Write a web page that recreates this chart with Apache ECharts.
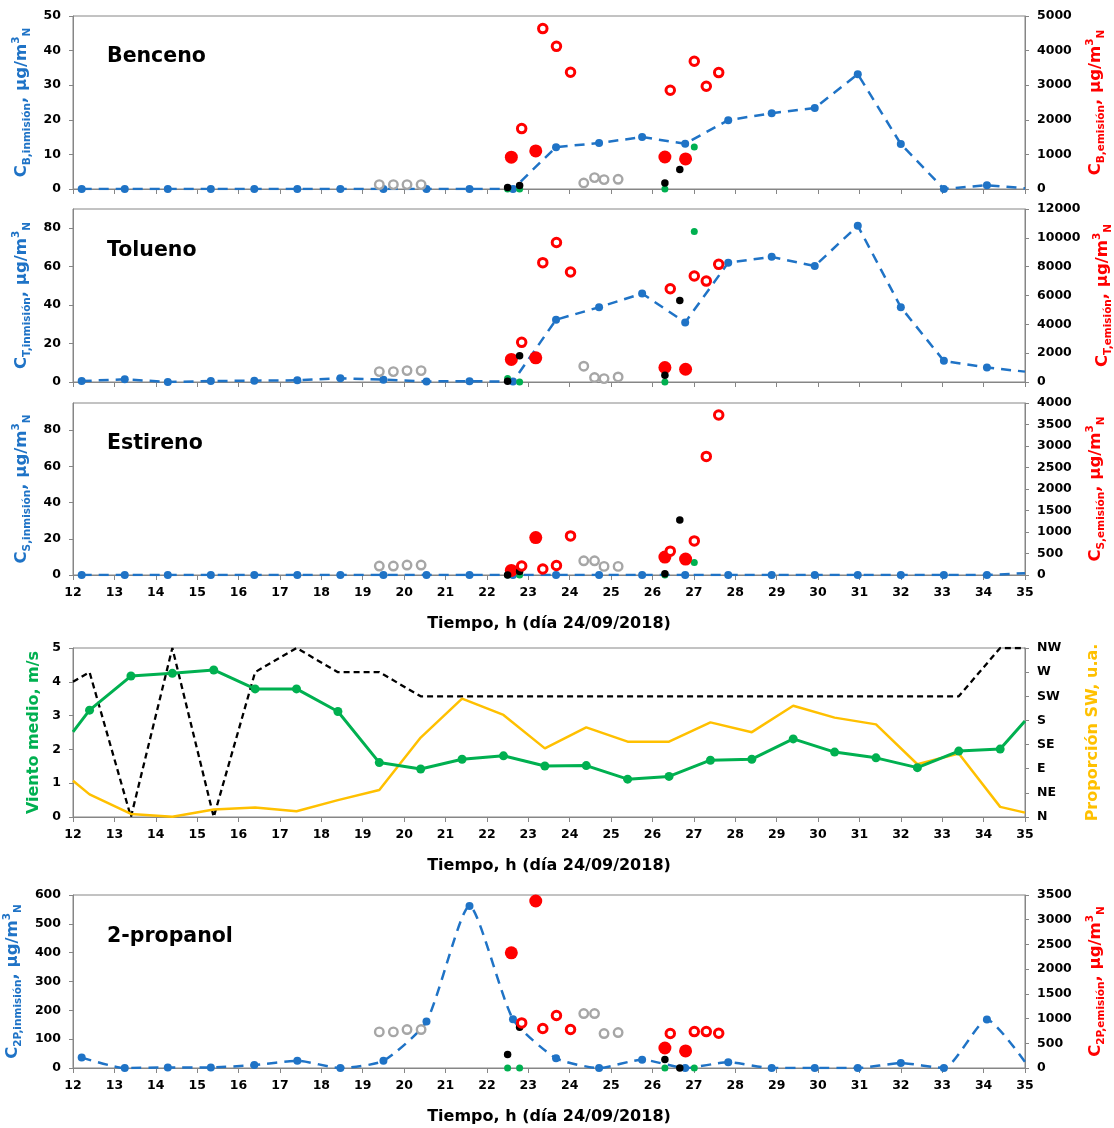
<!DOCTYPE html>
<html>
<head>
<meta charset="utf-8">
<script src="https://cdn.jsdelivr.net/npm/echarts@6/dist/echarts.min.js"></script>
<style>
  html, body { margin: 0; padding: 0; background: #fff; }
  #chart { width: 1114px; height: 1128px; }
</style>
</head>
<body>
<div id="chart"></div>
<script>
// ---- Ambient (inmisión) samples: hour of day 24/09/2018; last entry is the value at the 35 h frame edge
const hoursImm    = [12.21, 13.25, 14.29, 15.33, 16.38, 17.42, 18.46, 19.50, 20.54, 21.58, 22.63, 23.67, 24.71, 25.75, 26.79, 27.83, 28.88, 29.92, 30.96, 32.00, 33.04, 34.08, 35];
const benzeneImm  = [0, 0, 0, 0, 0, 0, 0, 0, 0, 0, 0, 12.1, 13.3, 15.0, 13.1, 19.9, 21.9, 23.4, 33.2, 13.0, 0, 1.1, 0.2];
const tolueneImm  = [0.5, 1.4, 0, 0.5, 0.7, 0.9, 1.9, 1.2, 0.3, 0.4, 0.2, 32.4, 38.9, 46.0, 31.0, 62.1, 65.1, 60.3, 81.3, 38.9, 11.0, 7.5, 5.4];
const styreneImm  = [0, 0, 0, 0, 0, 0, 0, 0, 0, 0, 0, 0, 0, 0, 0, 0, 0, 0, 0, 0, 0, 0, 1.0];
const propanolImm = [36, 0, 2, 2, 10, 25, 0, 25, 161, 562, 169, 34, 0, 29, 0, 20, 0, 0, 0, 17, 0, 168, 21];

// ---- Emission (emisión) sampling times, h
const tRedFilled = [22.59, 23.18, 26.30, 26.80];
const tRedOpen   = [22.84, 23.35, 23.68, 24.02, 26.43, 27.01, 27.30, 27.60];
const tGrey      = [19.40, 19.74, 20.07, 20.41, 24.34, 24.60, 24.83, 25.17];
const tBlack     = [22.50, 22.79, 26.30, 26.66];
const tGreen     = [22.50, 22.79, 26.30, 27.01];

// Benceno emission values
const bzRedFilled = [920, 1100, 925, 870];
const bzRedOpen   = [1745, 4636, 4124, 3373, 2853, 3691, 2968, 3364];
const bzGrey      = [127, 127, 127, 127, 173, 329, 272, 280];
const bzBlack     = [40, 98, 173, 560];
const bzGreen     = [0, 0, 0, 1214];

// Tolueno emission values
const tlRedFilled = [1563, 1674, 1005, 886];
const tlRedOpen   = [2749, 8280, 9674, 7628, 6466, 7349, 6999, 8163];
const tlGrey      = [720, 720, 790, 790, 1095, 307, 237, 349];
const tlBlack     = [50, 1814, 467, 5651];
const tlGreen     = [237, 0, 0, 10444];

// Estireno emission values
const stRedFilled = [107, 870, 416, 370];
const stRedOpen   = [208, 139, 222, 909, 555, 793, 2758, 3722];
const stGrey      = [208, 208, 231, 231, 330, 330, 200, 200];
const stBlack     = [0, 84, 31, 1279];
const stGreen     = [0, 0, 0, 292];

// 2-propanol emission values
const prRedFilled = [2331, 3379, 405, 345];
const prRedOpen   = [912, 798, 1061, 778, 697, 737, 737, 703];
const prGrey      = [730, 730, 778, 778, 1102, 1102, 697, 717];
const prBlack     = [271, 825, 170, 0];
const prGreen     = [0, 0, 0, 0];

// ---- Meteorology: first and last entries are the values at the frame edges (12 h and 35 h)
const windHours = [12, 12.4, 13.4, 14.4, 15.4, 16.4, 17.4, 18.4, 19.4, 20.4, 21.4, 22.4, 23.4, 24.4, 25.4, 26.4, 27.4, 28.4, 29.4, 30.4, 31.4, 32.4, 33.4, 34.4, 35];
const windSpeed = [2.52, 3.16, 4.17, 4.25, 4.35, 3.79, 3.79, 3.12, 1.61, 1.42, 1.71, 1.81, 1.51, 1.52, 1.12, 1.20, 1.68, 1.71, 2.31, 1.92, 1.75, 1.46, 1.95, 2.01, 2.84];
const swShare   = [1.07, 0.67, 0.09, 0.01, 0.22, 0.28, 0.17, 0.50, 0.80, 2.35, 3.50, 3.02, 2.03, 2.65, 2.23, 2.23, 2.80, 2.51, 3.29, 2.94, 2.74, 1.56, 1.88, 0.30, 0.13];
const windDir   = [5.6, 6, 0, 7, 0, 6, 7, 6, 6, 5, 5, 5, 5, 5, 5, 5, 5, 5, 5, 5, 5, 5, 5, 7, 7];
const dirLabels = ['N', 'NE', 'E', 'SE', 'S', 'SW', 'W', 'NW'];

// ---- Styling
const FONT = 'DejaVu Sans';
const AX = '#868686';
const BLUE = '#1f73c6', RED = '#ff0000', GREEN = '#00b050', ORANGE = '#ffc000', GREY = '#a6a6a6';
const TIME_TITLE = 'Tiempo, h (día 24/09/2018)';

const gridBoxes = [
  { top: 16, height: 173 },
  { top: 209, height: 173 },
  { top: 403, height: 172 },
  { top: 648, height: 169 },
  { top: 895, height: 173 }
];

function xAxisFor(i, withLabels) {
  return {
    gridIndex: i, type: 'value', min: 12, max: 35, interval: 1,
    axisLine: { show: true, onZero: false, lineStyle: { color: AX, width: 1 } },
    axisTick: { show: true, inside: false, length: 5, lineStyle: { color: AX } },
    axisLabel: { show: withLabels, margin: 11, color: '#000', fontWeight: 'bold', fontFamily: FONT, fontSize: 12.5,
      formatter: v => String(v) },
    splitLine: { show: false },
    name: withLabels ? TIME_TITLE : '',
    nameLocation: 'middle', nameGap: 41,
    nameTextStyle: { color: '#000', fontWeight: 'bold', fontFamily: FONT, fontSize: 16 }
  };
}

function concName(sub, color) {
  const base = { color: color, fontWeight: 'bold', fontFamily: FONT };
  return {
    text: '{m|C}{s|' + sub + '}{m|, µg/m}{p|3}{s|N}',
    style: {
      color: color, fontWeight: 'bold', fontFamily: FONT,
      rich: {
        m: Object.assign({ fontSize: 16.5, lineHeight: 22, verticalAlign: 'middle' }, base),
        s: Object.assign({ fontSize: 10.5, lineHeight: 12, verticalAlign: 'bottom' }, base),
        p: Object.assign({ fontSize: 10.5, lineHeight: 12, verticalAlign: 'top' }, base)
      }
    }
  };
}

function yAxisFor(i, position, min, max, interval, title, gap, opts) {
  opts = opts || {};
  return {
    gridIndex: i, type: 'value', position: position, min: min, max: max, interval: interval,
    axisLine: { show: true, onZero: false, lineStyle: { color: AX, width: 1 } },
    axisTick: { show: true, inside: false, length: 4, lineStyle: { color: AX } },
    axisLabel: {
      margin: 12, color: '#000', fontWeight: 'bold', fontFamily: FONT, fontSize: 12.5,
      showMaxLabel: opts.hideMax ? false : true,
      formatter: opts.formatter || (v => String(v))
    },
    splitLine: { show: false },
    name: title.text, nameLocation: 'middle', nameRotate: 90, nameGap: gap,
    nameTextStyle: title.style
  };
}

function plainName(text, color, size) {
  return { text: text, style: { color: color, fontWeight: 'bold', fontFamily: FONT, fontSize: size } };
}

function pairs(ts, vs) { return ts.map((t, k) => [t, vs[k]]); }

function immSeries(i, values, smooth) {
  const last = hoursImm.length - 1;
  return {
    type: 'line', xAxisIndex: i, yAxisIndex: 2 * i, z: 2,
    data: hoursImm.map((t, k) => k === last ? { value: [t, values[k]], symbol: 'none' } : [t, values[k]]),
    symbol: 'circle', symbolSize: 8, showAllSymbol: true, smooth: smooth || false,
    lineStyle: { color: BLUE, width: 2.5, type: [10, 7] },
    itemStyle: { color: BLUE, opacity: 1 }
  };
}

function emissionSeries(i, set) {
  const y = 2 * i + 1;
  const dot = (z, ts, vs, size, style) => ({
    type: 'scatter', xAxisIndex: i, yAxisIndex: y, z: z, data: pairs(ts, vs),
    symbol: 'circle', symbolSize: size, itemStyle: Object.assign({ opacity: 1 }, style)
  });
  return [
    dot(3, tGrey, set.grey, 8.5, { color: '#fff', borderColor: GREY, borderWidth: 2.4 }),
    dot(4, tGreen, set.green, 7, { color: GREEN }),
    dot(5, tRedFilled, set.redFilled, 13, { color: RED }),
    dot(6, tBlack, set.black, 7.5, { color: '#000' }),
    dot(7, tRedOpen, set.redOpen, 8.5, { color: '#fff', borderColor: RED, borderWidth: 3 })
  ];
}

const option = {
  animation: false,
  backgroundColor: '#fff',
  grid: gridBoxes.map(g => ({
    left: 73, right: 89, top: g.top, height: g.height, show: true,
    borderColor: AX, borderWidth: 1, backgroundColor: 'transparent', containLabel: false, outerBoundsMode: 'none'
  })),
  xAxis: [xAxisFor(0, false), xAxisFor(1, false), xAxisFor(2, true), xAxisFor(3, true), xAxisFor(4, true)],
  yAxis: [
    yAxisFor(0, 'left', 0, 50, 10, concName('B,inmisión', BLUE), 40),
    yAxisFor(0, 'right', 0, 5000, 1000, concName('B,emisión', RED), 60),
    yAxisFor(1, 'left', 0, 90, 20, concName('T,inmisión', BLUE), 40, { hideMax: true }),
    yAxisFor(1, 'right', 0, 12000, 2000, concName('T,emisión', RED), 60),
    yAxisFor(2, 'left', 0, 95, 20, concName('S,inmisión', BLUE), 40, { hideMax: true }),
    yAxisFor(2, 'right', 0, 4000, 500, concName('S,emisión', RED), 60),
    yAxisFor(3, 'left', 0, 5, 1, plainName('Viento medio, m/s', GREEN, 16), 29),
    yAxisFor(3, 'right', 0, 7, 1, plainName('Proporción SW, u.a.', ORANGE, 16), 60,
      { formatter: v => dirLabels[Math.round(v)] || '' }),
    yAxisFor(4, 'left', 0, 600, 100, concName('2P,inmisión', BLUE), 47),
    yAxisFor(4, 'right', 0, 3500, 500, concName('2P,emisión', RED), 60)
  ],
  graphic: [
    { type: 'text', left: 107, top: 46, style: { text: 'Benceno', font: 'bold 20.5px "DejaVu Sans"', fill: '#000' } },
    { type: 'text', left: 107, top: 240, style: { text: 'Tolueno', font: 'bold 20.5px "DejaVu Sans"', fill: '#000' } },
    { type: 'text', left: 107, top: 433, style: { text: 'Estireno', font: 'bold 20.5px "DejaVu Sans"', fill: '#000' } },
    { type: 'text', left: 107, top: 926, style: { text: '2-propanol', font: 'bold 20.5px "DejaVu Sans"', fill: '#000' } }
  ],
  series: [
    immSeries(0, benzeneImm),
    ...emissionSeries(0, { redFilled: bzRedFilled, redOpen: bzRedOpen, grey: bzGrey, black: bzBlack, green: bzGreen }),
    immSeries(1, tolueneImm),
    ...emissionSeries(1, { redFilled: tlRedFilled, redOpen: tlRedOpen, grey: tlGrey, black: tlBlack, green: tlGreen }),
    immSeries(2, styreneImm),
    ...emissionSeries(2, { redFilled: stRedFilled, redOpen: stRedOpen, grey: stGrey, black: stBlack, green: stGreen }),
    // wind panel
    { type: 'line', xAxisIndex: 3, yAxisIndex: 7, z: 2, data: pairs(windHours, windDir), symbol: 'none',
      lineStyle: { color: '#000', width: 2.3, type: [6, 4] } },
    { type: 'line', xAxisIndex: 3, yAxisIndex: 6, z: 3, data: pairs(windHours, swShare), symbol: 'none',
      lineStyle: { color: ORANGE, width: 2.5 } },
    { type: 'line', xAxisIndex: 3, yAxisIndex: 6, z: 4, symbol: 'circle', symbolSize: 9, showAllSymbol: true,
      data: windHours.map((t, k) => (k === 0 || k === windHours.length - 1) ? { value: [t, windSpeed[k]], symbol: 'none' } : [t, windSpeed[k]]),
      lineStyle: { color: GREEN, width: 3 }, itemStyle: { color: GREEN, opacity: 1 } },
    immSeries(4, propanolImm, 0.2),
    ...emissionSeries(4, { redFilled: prRedFilled, redOpen: prRedOpen, grey: prGrey, black: prBlack, green: prGreen })
  ]
};

const chart = echarts.init(document.getElementById('chart'), null, { renderer: 'canvas' });
chart.setOption(option);
</script>
</body>
</html>
